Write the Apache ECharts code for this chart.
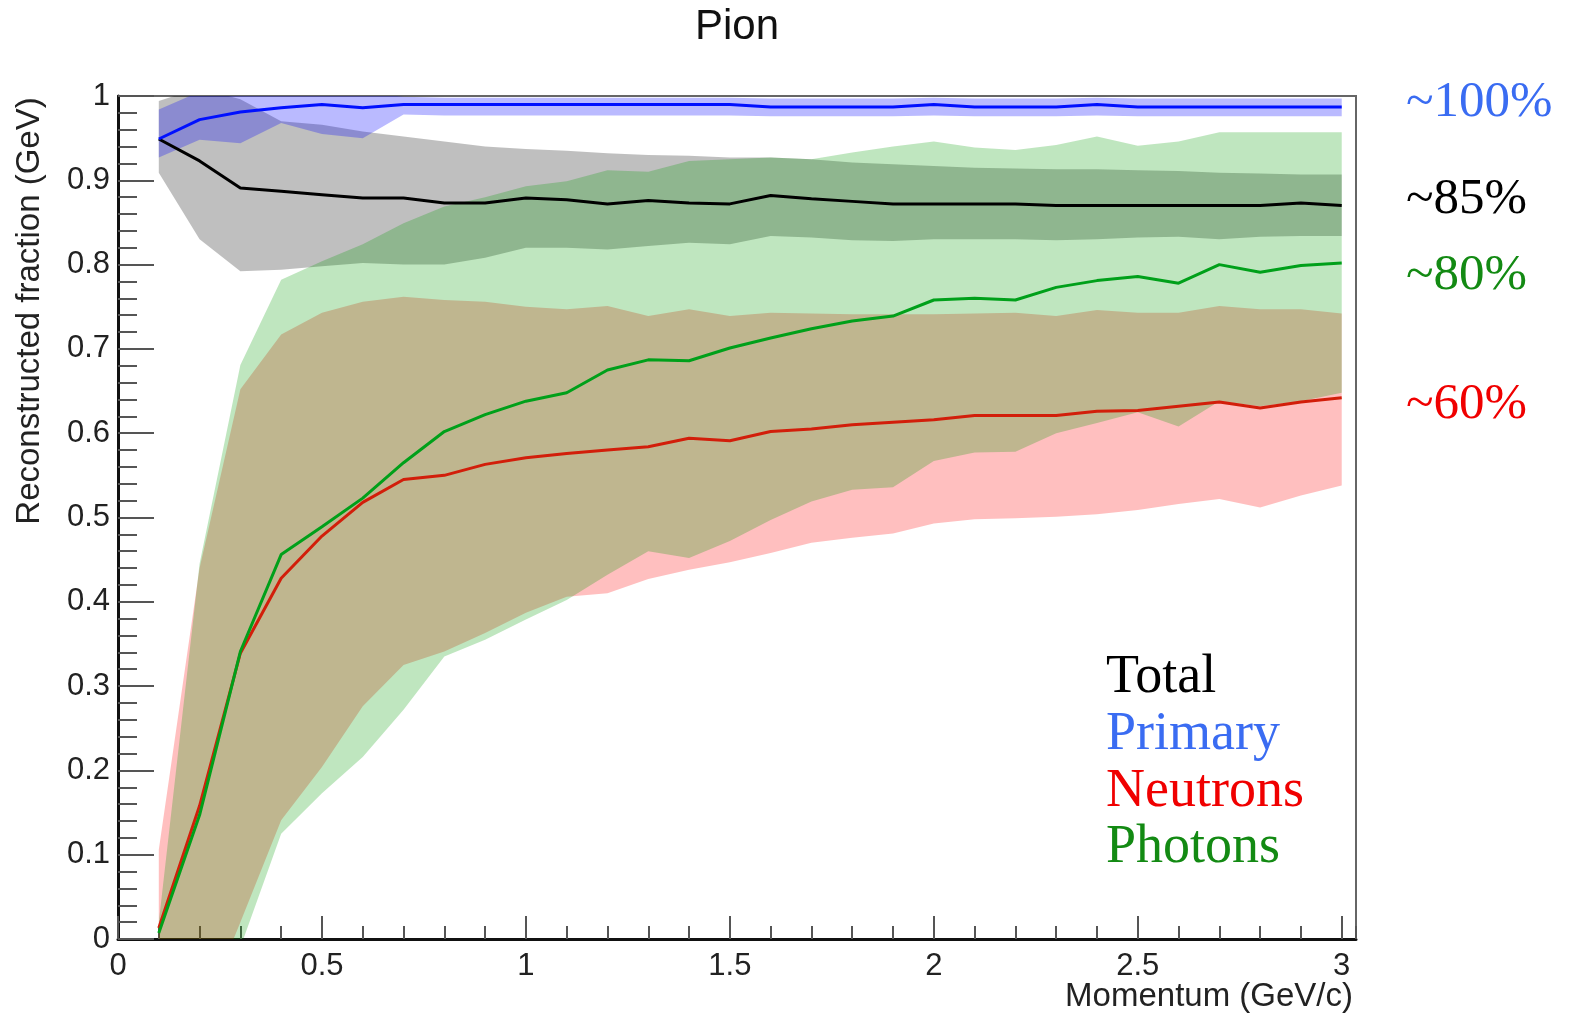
<!DOCTYPE html>
<html>
<head>
<meta charset="utf-8">
<script src="https://cdn.jsdelivr.net/npm/echarts@6/dist/echarts.min.js"></script>
<style>html,body{margin:0;padding:0;background:#fff}#c{width:1569px;height:1020px}</style>
</head>
<body>
<div id="c"></div>
<script>
// ---- data ----
var momentum = [0.1,0.2,0.3,0.4,0.5,0.6,0.7,0.8,0.9,1.0,1.1,1.2,1.3,1.4,1.5,1.6,1.7,1.8,1.9,2.0,2.1,2.2,2.3,2.4,2.5,2.6,2.7,2.8,2.9,3.0];

var primaryMean = [0.949,0.972,0.981,0.986,0.990,0.986,0.990,0.990,0.990,0.990,0.990,0.990,0.990,0.990,0.990,0.987,0.987,0.987,0.987,0.990,0.987,0.987,0.987,0.990,0.987,0.987,0.987,0.987,0.987,0.987];
var primaryLow  = [0.927,0.948,0.944,0.968,0.955,0.950,0.978,0.977,0.977,0.977,0.977,0.977,0.977,0.977,0.977,0.976,0.976,0.976,0.976,0.977,0.976,0.976,0.976,0.977,0.976,0.976,0.976,0.976,0.976,0.976];
var primaryHigh = [0.984,1.005,1.005,1.005,1.005,1.005,0.999,0.998,0.998,0.998,0.998,0.998,0.998,0.998,0.998,0.997,0.997,0.997,0.997,0.998,0.997,0.997,0.997,0.998,0.997,0.997,0.997,0.997,0.997,0.997];

var totalMean = [0.949,0.923,0.891,0.887,0.883,0.879,0.879,0.873,0.873,0.879,0.877,0.872,0.876,0.873,0.872,0.882,0.878,0.875,0.872,0.872,0.872,0.872,0.870,0.870,0.870,0.870,0.870,0.870,0.873,0.870];
var totalLow  = [0.909,0.830,0.792,0.794,0.798,0.802,0.800,0.800,0.808,0.820,0.820,0.818,0.822,0.826,0.824,0.834,0.832,0.829,0.828,0.830,0.830,0.830,0.829,0.830,0.832,0.833,0.830,0.833,0.834,0.834];
var totalHigh = [0.994,1.010,0.996,0.970,0.966,0.958,0.952,0.946,0.940,0.937,0.935,0.932,0.930,0.929,0.927,0.927,0.925,0.921,0.919,0.917,0.915,0.914,0.913,0.913,0.912,0.911,0.909,0.908,0.907,0.907];

var neutronMean = [0.013,0.158,0.339,0.428,0.478,0.518,0.545,0.550,0.563,0.571,0.576,0.580,0.584,0.594,0.591,0.602,0.605,0.610,0.613,0.616,0.621,0.621,0.621,0.626,0.627,0.632,0.637,0.630,0.637,0.642];
var neutronLow  = [-0.05,-0.10,0.020,0.141,0.204,0.276,0.325,0.341,0.363,0.387,0.406,0.410,0.427,0.438,0.447,0.458,0.470,0.476,0.481,0.493,0.498,0.499,0.501,0.504,0.509,0.516,0.522,0.512,0.526,0.538];
var neutronHigh = [0.106,0.440,0.652,0.717,0.743,0.756,0.762,0.758,0.756,0.750,0.747,0.751,0.739,0.747,0.739,0.743,0.742,0.741,0.741,0.741,0.742,0.743,0.739,0.746,0.743,0.743,0.751,0.747,0.747,0.742];

var photonMean = [0.007,0.147,0.341,0.456,0.489,0.523,0.565,0.602,0.622,0.638,0.648,0.675,0.687,0.686,0.701,0.713,0.724,0.733,0.739,0.758,0.760,0.758,0.773,0.781,0.786,0.778,0.800,0.791,0.799,0.802];
var photonLow  = [-0.02,-0.15,-0.010,0.125,0.173,0.216,0.272,0.335,0.355,0.379,0.402,0.432,0.460,0.452,0.472,0.497,0.519,0.533,0.536,0.567,0.577,0.578,0.600,0.612,0.625,0.608,0.638,0.632,0.638,0.648];
var photonHigh = [0.020,0.445,0.681,0.782,0.804,0.824,0.849,0.869,0.880,0.893,0.899,0.912,0.910,0.923,0.925,0.927,0.925,0.933,0.940,0.946,0.939,0.936,0.942,0.952,0.941,0.946,0.957,0.957,0.957,0.957];

var xTickLabels = ['0','0.5','1','1.5','2','2.5','3'];
var yTickLabels = ['0','0.1','0.2','0.3','0.4','0.5','0.6','0.7','0.8','0.9','1'];

// ---- helpers ----
function pairs(ys) { return momentum.map(function (x, i) { return [x, ys[i]]; }); }
function triples(lo, hi) { return momentum.map(function (x, i) { return [x, lo[i], hi[i]]; }); }

// one filled polygon (mean ± spread) drawn through the axes' scales
function band(name, lo, hi, color) {
  return {
    type: 'custom', name: name, silent: true, xAxisIndex: 0, yAxisIndex: 0,
    data: triples(lo, hi),
    encode: { x: 0, y: [1, 2] },
    renderItem: function (params, api) {
      if (params.dataIndex !== 0) return null;
      var n = params.dataInsideLength;
      var upper = [], lower = [];
      for (var i = 0; i < n; i++) {
        var x = api.value(0, i);
        upper.push(api.coord([x, api.value(2, i)]));
        lower.push(api.coord([x, api.value(1, i)]));
      }
      var cs = params.coordSys;
      return {
        type: 'polygon',
        shape: { points: upper.concat(lower.reverse()) },
        style: { fill: color, stroke: null },
        clipPath: { type: 'rect', shape: { x: cs.x, y: cs.y, width: cs.width, height: cs.height } }
      };
    }
  };
}
function meanLine(name, ys, color) {
  return { type: 'line', name: name, data: pairs(ys), symbol: 'none', silent: true,
    lineStyle: { color: color, width: 3 }, xAxisIndex: 0 };
}

var sans = 'Liberation Sans, Arial, Helvetica, sans-serif';
var serif = 'Liberation Serif, Times New Roman, serif';

var series = [
  band('totalBand', totalLow, totalHigh, 'rgba(0,0,0,0.25)'),
  band('primaryBand', primaryLow, primaryHigh, 'rgba(0,0,255,0.27)'),
  band('neutronBand', neutronLow, neutronHigh, 'rgba(255,0,0,0.25)'),
  band('photonBand', photonLow, photonHigh, 'rgba(0,155,0,0.25)'),
  meanLine('Neutrons', neutronMean, '#d21e0a'),
  meanLine('Photons', photonMean, '#00a01a'),
  meanLine('Total', totalMean, '#000000'),
  meanLine('Primary', primaryMean, '#0010ff')
];

var chart = echarts.init(document.getElementById('c'), null, { renderer: 'canvas' });
chart.setOption({
  animation: false,
  backgroundColor: '#ffffff',
  grid: { left: 118, right: 213, top: 96, bottom: 81, show: true, borderColor: '#666', borderWidth: 2, backgroundColor: 'transparent' },
  xAxis: [
    { type: 'value', min: 0, max: 3.035, interval: 0.5, position: 'bottom',
      axisLine: { show: true, lineStyle: { color: '#111', width: 3 } },
      axisTick: { show: true, inside: true, length: 23, lineStyle: { color: '#555', width: 2 } },
      minorTick: { show: false },
      splitLine: { show: false },
      axisLabel: { show: true, margin: 12, color: '#222', fontFamily: sans, fontSize: 31, showMaxLabel: false,
        formatter: function (v) { var k = Math.round(v * 2); return Math.abs(v * 2 - k) < 1e-6 ? xTickLabels[k] : ''; } } },
    { type: 'value', min: 0, max: 3.035, interval: 0.1, position: 'bottom', offset: 0,
      axisLine: { show: false },
      axisTick: { show: true, inside: true, length: 13, lineStyle: { color: '#555', width: 2 } },
      splitLine: { show: false },
      axisLabel: { show: false } }
  ],
  yAxis: {
    type: 'value', min: 0, max: 1, interval: 0.1,
    axisLine: { show: true, lineStyle: { color: '#111', width: 3 } },
    axisTick: { show: true, inside: true, length: 36, lineStyle: { color: '#555', width: 2 } },
    minorTick: { show: true, splitNumber: 5, length: 19, lineStyle: { color: '#555', width: 2 } },
    splitLine: { show: false },
    axisLabel: { margin: 8, color: '#222', fontFamily: sans, fontSize: 31,
      formatter: function (v) { return yTickLabels[Math.round(v * 10)]; } }
  },
  series: series,
  graphic: [
    { type: 'text', x: 737, y: 27, style: { text: 'Pion', fontFamily: sans, fontSize: 42, fill: '#111', align: 'center', verticalAlign: 'middle' } },
    { type: 'text', rotation: Math.PI / 2, x: 30, y: 311, style: { text: 'Reconstructed fraction (GeV)', fontFamily: sans, fontSize: 33, fill: '#222', align: 'center', verticalAlign: 'middle' } },
    { type: 'text', x: 1353, y: 997, style: { text: 'Momentum (GeV/c)', fontFamily: sans, fontSize: 33, fill: '#222', align: 'right', verticalAlign: 'middle' } },
    { type: 'text', x: 1406, y: 103, style: { text: '~100%', fontFamily: serif, fontSize: 51, fill: '#3a6cf2', align: 'left', verticalAlign: 'middle' } },
    { type: 'text', x: 1406, y: 200, style: { text: '~85%', fontFamily: serif, fontSize: 51, fill: '#000000', align: 'left', verticalAlign: 'middle' } },
    { type: 'text', x: 1406, y: 276, style: { text: '~80%', fontFamily: serif, fontSize: 51, fill: '#138a13', align: 'left', verticalAlign: 'middle' } },
    { type: 'text', x: 1406, y: 405, style: { text: '~60%', fontFamily: serif, fontSize: 51, fill: '#f00000', align: 'left', verticalAlign: 'middle' } },
    { type: 'text', x: 1106, y: 678, style: { text: 'Total', fontFamily: serif, fontSize: 54, fill: '#000000', align: 'left', verticalAlign: 'middle' } },
    { type: 'text', x: 1106, y: 735, style: { text: 'Primary', fontFamily: serif, fontSize: 54, fill: '#3a6cf2', align: 'left', verticalAlign: 'middle' } },
    { type: 'text', x: 1106, y: 792, style: { text: 'Neutrons', fontFamily: serif, fontSize: 54, fill: '#f00000', align: 'left', verticalAlign: 'middle' } },
    { type: 'text', x: 1106, y: 848, style: { text: 'Photons', fontFamily: serif, fontSize: 54, fill: '#138a13', align: 'left', verticalAlign: 'middle' } }
  ]
});
</script>
</body>
</html>
